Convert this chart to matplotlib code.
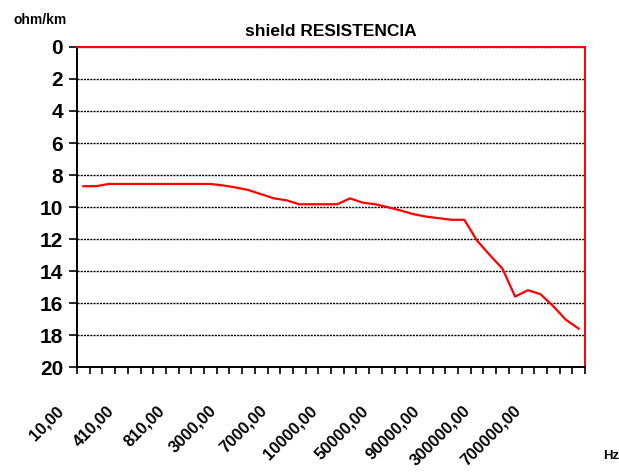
import matplotlib
matplotlib.use("Agg")
import matplotlib.pyplot as plt
from matplotlib import font_manager
from matplotlib.transforms import ScaledTranslation

# frequency categories (Hz)
freqs = [10, 110, 210, 310, 410, 510, 610, 710, 810, 910,
         1000, 2000, 3000, 4000, 5000, 6000, 7000, 8000, 9000, 9500,
         10000, 20000, 30000, 40000, 50000, 60000, 70000, 80000, 90000, 100000,
         200000, 250000, 300000, 400000, 500000, 600000, 700000, 800000, 900000, 1000000]

# shield resistance, ohm/km
resist = [8.7, 8.7, 8.56, 8.56, 8.56, 8.56, 8.56, 8.56, 8.56, 8.56,
          8.56, 8.65, 8.78, 8.94, 9.2, 9.46, 9.58, 9.83, 9.83, 9.83,
          9.83, 9.46, 9.73, 9.83, 10.02, 10.22, 10.45, 10.6, 10.7, 10.8,
          10.8, 12.1, 13.0, 13.85, 15.6, 15.2, 15.45, 16.2, 17.05, 17.6]

y_ticks = list(range(0, 21, 2))

names = {f.name for f in font_manager.fontManager.ttflist}
fam = "Liberation Sans Narrow" if "Liberation Sans Narrow" in names else "Liberation Sans"
plt.rcParams["font.family"] = [fam, "DejaVu Sans"]
plt.rcParams["font.weight"] = "bold"

fig = plt.figure(figsize=(6.19, 4.73), dpi=100)
ax = fig.add_axes([77 / 619, 1 - 367 / 473, 508 / 619, 320 / 473])

x = list(range(len(freqs)))
ax.plot(x, resist, color="red", lw=1.6, zorder=3)

ax.set_xlim(-0.5, len(freqs) - 0.5)
ax.set_ylim(20, 0)
ax.set_yticks(y_ticks)
ax.set_yticklabels([str(v) for v in y_ticks], fontsize=15, fontweight="bold")
for v in y_ticks[:-1]:
    ax.axhline(v, color="black", lw=1.0, ls=(0, (1.5, 0.8)), zorder=1)

lab_idx = list(range(0, len(freqs), 4))
ax.set_xticks(lab_idx)
ax.set_xticklabels([f"{freqs[i]},00" for i in lab_idx], rotation=45,
                   ha="right", va="top", fontsize=12, fontweight="bold")
ax.set_xticks([i - 0.5 for i in range(len(freqs) + 1)], minor=True)
ax.tick_params(axis="x", which="major", length=0, pad=26)
ax.tick_params(axis="x", which="minor", length=5, width=1.2, color="black", direction="out")
ax.tick_params(axis="y", length=6, width=1.2, color="black", direction="out", pad=4)
off = ScaledTranslation(-17 / 100, 0, fig.dpi_scale_trans)
for lab in ax.get_xticklabels():
    lab.set_transform(lab.get_transform() + off)

ax.spines["left"].set_color("black")
ax.spines["bottom"].set_color("black")
ax.spines["top"].set_color("red")
ax.spines["right"].set_color("red")
for s in ax.spines.values():
    s.set_linewidth(1.4)

fig.text(331 / 619, 1 - 31 / 473, "shield RESISTENCIA", ha="center", va="center",
         fontsize=12.5, fontweight="bold", family="Liberation Sans")
fig.text(40 / 619, 1 - 20 / 473, "ohm/km", ha="center", va="center",
         fontsize=10, fontweight="bold", family="Liberation Sans")
fig.text(611 / 619, 1 - 456 / 473, "Hz", ha="center", va="center",
         fontsize=9.5, fontweight="bold", family="Liberation Sans")

fig.savefig("out.png", dpi=100)
